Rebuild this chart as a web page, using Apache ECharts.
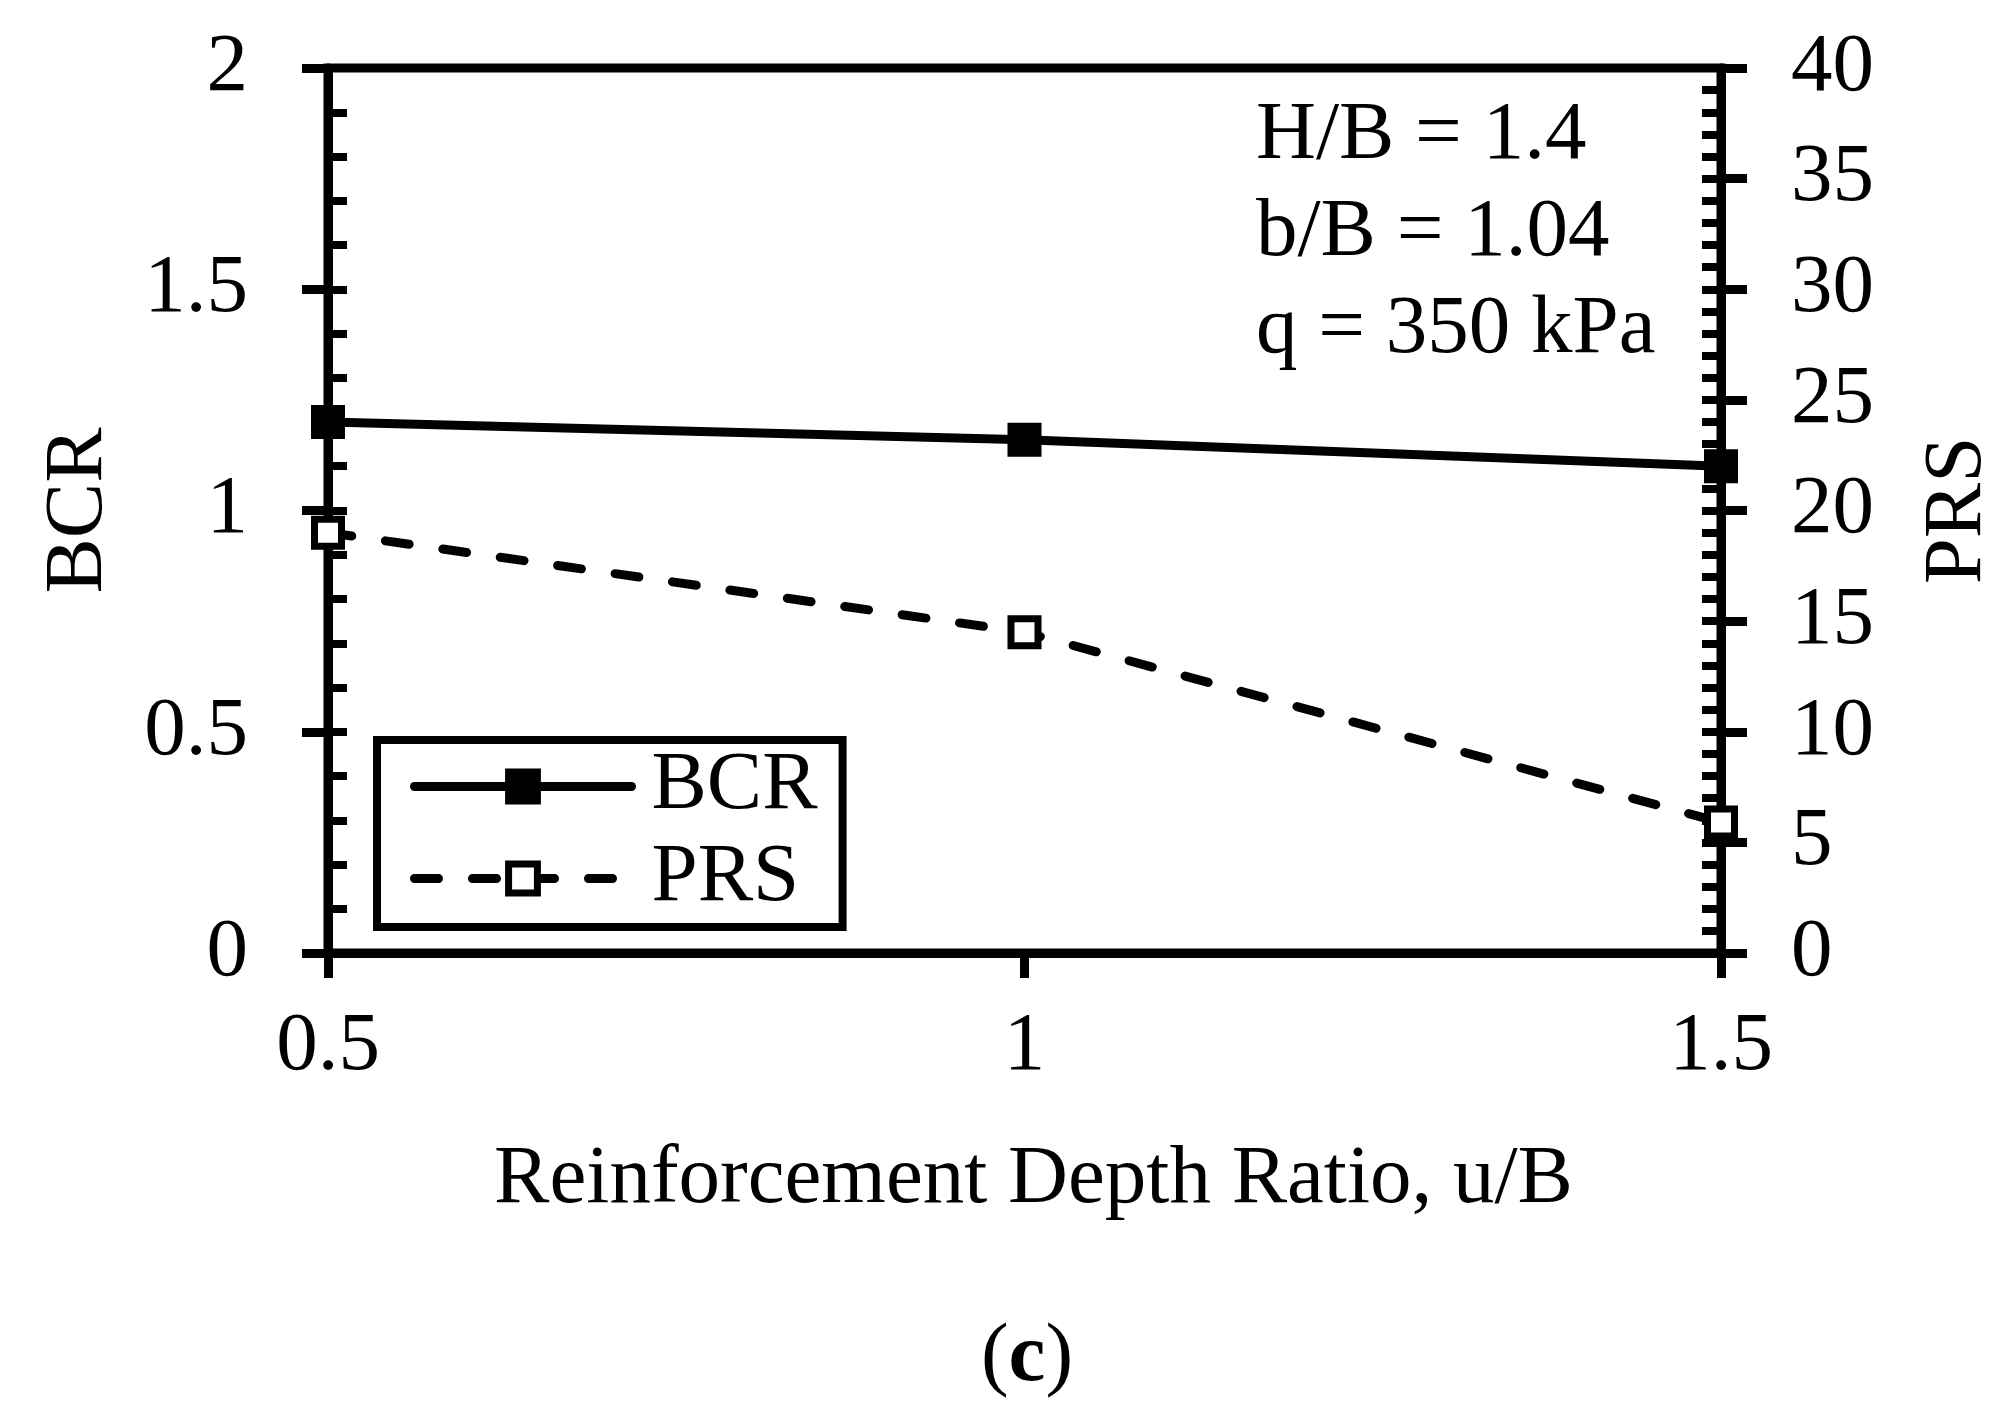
<!DOCTYPE html>
<html>
<head>
<meta charset="utf-8">
<script src="https://cdn.jsdelivr.net/npm/echarts@6/dist/echarts.min.js"></script>
<style>
  html, body { margin: 0; padding: 0; background: #fff; }
  #chart { width: 2015px; height: 1406px; }
</style>
</head>
<body>
<div id="chart"></div>
<script>
// data
const depthRatio = [0.5, 1, 1.5];
const bcrValues = [1.2, 1.16, 1.1];
const prsValues = [19.0, 14.5, 5.9];
const notes = ['H/B = 1.4', 'b/B = 1.04', 'q = 350 kPa'];

const FONT = 'Liberation Serif';
const INK = '#000';
const FS = 83;

const chart = echarts.init(document.getElementById('chart'), null, { renderer: 'canvas' });

// the inner ticks (major + minor) live on a second, label-less axis on each side
const innerTicks = (position, max, interval) => ({
  type: 'value',
  position: position,
  min: 0,
  max: max,
  interval: interval,
  axisLine: { show: false },
  axisLabel: { show: false },
  splitLine: { show: false },
  axisTick: { show: true, inside: true, length: 19, lineStyle: { color: INK, width: 8 } },
  minorTick: { show: true, splitNumber: 5, length: 19, lineStyle: { color: INK, width: 8 } },
});

chart.setOption({
  animation: false,
  textStyle: { fontFamily: FONT, color: INK },
  title: [
    {
      text: notes.join('\n'),
      left: 1256,
      top: 88,
      padding: 0,
      textStyle: { fontFamily: FONT, fontSize: FS, fontWeight: 'normal', lineHeight: 97, color: INK },
    },
    {
      text: '({b|c})',
      left: 1027,
      top: 1317,
      textAlign: 'center',
      padding: 0,
      textStyle: {
        fontFamily: FONT, fontSize: FS, fontWeight: 'normal', color: INK,
        rich: { b: { fontFamily: FONT, fontSize: FS, fontWeight: 'bold', color: INK } },
      },
    },
  ],
  legend: {
    orient: 'vertical',
    left: 377,
    top: 740,
    padding: [5, 25, 7, 33],
    itemWidth: 217,
    itemHeight: 36,
    itemGap: 9,
    selectedMode: false,
    borderColor: INK,
    borderWidth: 8,
    lineStyle: { width: 9 },
    itemStyle: { borderWidth: 'inherit' },
    textStyle: { fontFamily: FONT, fontSize: FS, color: INK, padding: [0, 0, 0, 15] },
    data: ['BCR', 'PRS'],
  },
  grid: {
    left: 328,
    right: 294,
    top: 68,
    bottom: 453,
    containLabel: false,
    outerBoundsMode: 'none',
    show: true,
    borderColor: INK,
    borderWidth: 9,
    backgroundColor: 'transparent',
  },
  xAxis: {
    type: 'value',
    min: 0.5,
    max: 1.5,
    interval: 0.5,
    name: 'Reinforcement Depth Ratio, u/B',
    nameLocation: 'middle',
    nameGap: 186,
    nameTextStyle: { fontFamily: FONT, fontSize: FS, color: INK, padding: [0, 0, 0, 18] },
    axisLine: { lineStyle: { color: INK, width: 9 } },
    axisTick: { show: true, length: 25, lineStyle: { color: INK, width: 9 } },
    axisLabel: { fontFamily: FONT, fontSize: FS, color: INK, margin: 53 },
    splitLine: { show: false },
  },
  yAxis: [
    {
      type: 'value',
      position: 'left',
      min: 0,
      max: 2,
      interval: 0.5,
      name: 'BCR',
      nameLocation: 'middle',
      nameRotate: 90,
      nameGap: 207,
      nameTextStyle: { fontFamily: FONT, fontSize: FS, color: INK },
      axisLine: { show: true, lineStyle: { color: INK, width: 9 } },
      axisTick: { show: true, length: 26, lineStyle: { color: INK, width: 9 } },
      axisLabel: { fontFamily: FONT, fontSize: FS, color: INK, margin: 80 },
      splitLine: { show: false },
    },
    {
      type: 'value',
      position: 'right',
      min: 0,
      max: 40,
      interval: 5,
      name: 'PRS',
      nameLocation: 'middle',
      nameRotate: 90,
      nameGap: 196,
      nameTextStyle: { fontFamily: FONT, fontSize: FS, color: INK },
      axisLine: { show: true, lineStyle: { color: INK, width: 9 } },
      axisTick: { show: true, length: 26, lineStyle: { color: INK, width: 9 } },
      axisLabel: { fontFamily: FONT, fontSize: FS, color: INK, margin: 70 },
      splitLine: { show: false },
    },
    innerTicks('left', 2, 0.5),
    innerTicks('right', 40, 5),
  ],
  series: [
    {
      name: 'BCR',
      type: 'line',
      yAxisIndex: 0,
      data: depthRatio.map((x, i) => [x, bcrValues[i]]),
      symbol: 'rect',
      symbolSize: 27,
      lineStyle: { color: INK, width: 9, cap: 'round' },
      itemStyle: { color: INK, borderColor: INK, borderWidth: 7 },
      z: 3,
    },
    {
      name: 'PRS',
      type: 'line',
      yAxisIndex: 1,
      data: depthRatio.map((x, i) => [x, prsValues[i]]),
      symbol: 'rect',
      symbolSize: 27,
      lineStyle: { color: INK, width: 9, type: [24, 34], cap: 'round' },
      itemStyle: { color: '#fff', borderColor: INK, borderWidth: 7 },
      z: 3,
    },
  ],
});
</script>
</body>
</html>
